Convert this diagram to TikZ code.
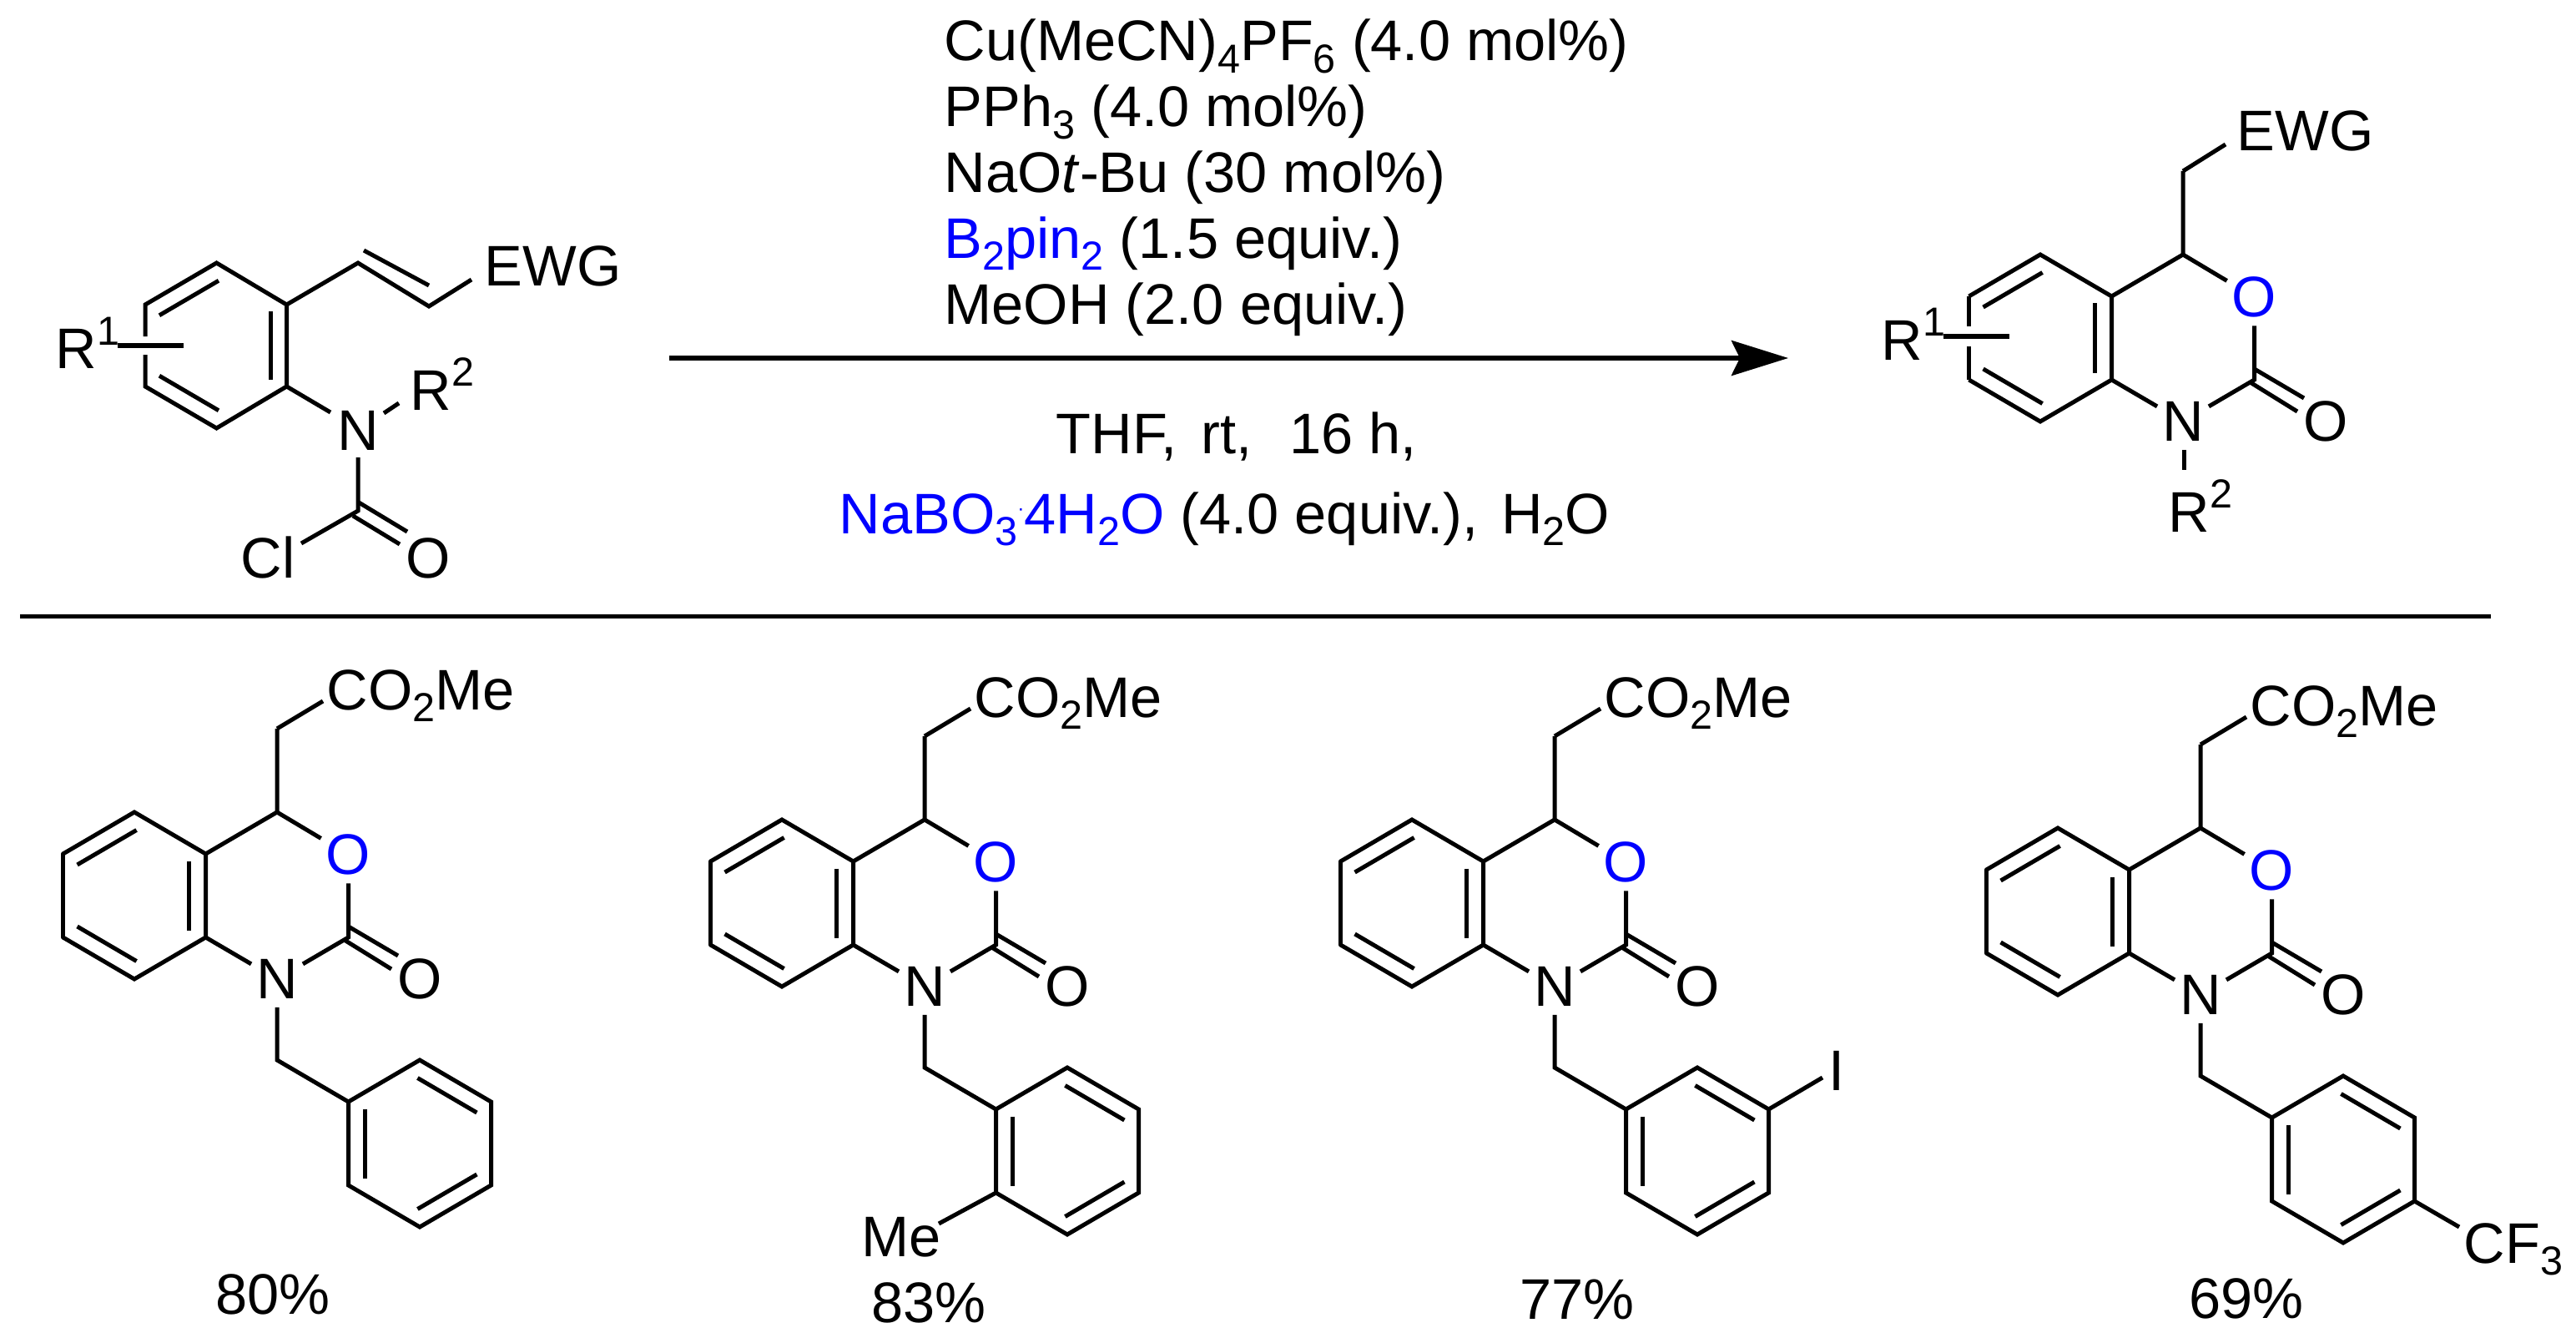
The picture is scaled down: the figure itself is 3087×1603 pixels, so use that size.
\documentclass[tikz,border=0pt]{standalone}
\usepackage{fontspec}
\setmainfont{Liberation Sans}
\usetikzlibrary{arrows.meta,calc}
\definecolor{oblue}{RGB}{0,0,255}
\newcommand{\subs}[1]{\raisebox{-.21em}{\fontsize{13.8}{13.8}\selectfont #1}}
\newcommand{\sups}[1]{\raisebox{.42em}{\fontsize{13.8}{13.8}\selectfont #1}}
\tikzset{
  every node/.style={font=\fontsize{19.5}{22}\selectfont},
  bond/.style={line width=.05cm,line join=miter,line cap=butt},
  inbond/.style={line width=.05cm,shorten <=-.03cm,shorten >=-.03cm},
  atom/.style={inner xsep=.055cm,inner ysep=.095cm},
  label/.style={inner sep=0pt,anchor=base west},
  yield/.style={inner sep=0pt,anchor=base},
}
% inner line of an aromatic double bond: ends a,b, ring centre c
\newcommand{\inner}[3]{\draw[inbond] ($(#1)!.23!(#3)$) -- ($(#2)!.23!(#3)$);}
% bicyclic carbamate core: name, x, y of C4
\newcommand{\core}[3]{%
  \begin{scope}[shift={(#2,#3)}]
    \coordinate (#1c4) at (0,0);
    \coordinate (#1ch) at (0,-100);
    \coordinate (#1tr) at (-85.5,50);
    \coordinate (#1br) at (-85.5,150);
    \coordinate (#1b) at (-171,200);
    \coordinate (#1bl) at (-256.5,150);
    \coordinate (#1tl) at (-256.5,50);
    \coordinate (#1t) at (-171,0);
    \coordinate (#1cen) at (-171,100);
    \coordinate (#1c2) at (85.5,150);
    \coordinate (#1da) at (80.5,153);
    \coordinate (#1db) at (137,188);
    \coordinate (#1dc) at (85.5,137);
    \coordinate (#1dd) at (145,172);
    \node[atom,text=oblue] (#1O) at (85.5,51) {O};
    \node[atom] (#1N) at (0,200) {N};
    \node[atom] (#1X) at (171,200) {O};
    \draw[bond] (#1ch) -- (#1c4) -- (#1O);
    \draw[bond] (#1O) -- (#1c2) -- (#1N);
    \draw[bond] (#1N) -- (#1br);
    \draw[bond] (#1bl) -- (#1b) -- (#1br) -- (#1tr) -- (#1t) -- (#1tl);
    \draw[bond] (#1tr) -- (#1c4);
    \draw[bond] (#1da) -- (#1db);
    \draw[bond] (#1dc) -- (#1dd);
    \inner{#1tl}{#1t}{#1cen}
    \inner{#1tr}{#1br}{#1cen}
    \inner{#1bl}{#1b}{#1cen}
  \end{scope}}
% closed left side of the fused benzene ring
\newcommand{\closed}[1]{\draw[bond,line cap=round] (#1tl) -- (#1bl);}
% CO2Me arm and N-benzyl ring
\newcommand{\arm}[3]{%
  \begin{scope}[shift={(#2,#3)}]
    \node[label] (#1E) at (59,-123) {CO\subs{2}Me};
    \coordinate (#1e) at (55,-133);
    \draw[bond] (#1ch) -- (#1e);
    \coordinate (#1p) at (0,297);
    \coordinate (#1i) at (85.5,347);
    \coordinate (#1pt) at (171,297);
    \coordinate (#1pr) at (256.5,347);
    \coordinate (#1ps) at (256.5,447);
    \coordinate (#1pb) at (171,497);
    \coordinate (#1pl) at (85.5,447);
    \coordinate (#1pc) at (171,397);
    \draw[bond] (#1N) -- (#1p) -- (#1i);
    \draw[bond] (#1i) -- (#1pt) -- (#1pr) -- (#1ps) -- (#1pb) -- (#1pl) -- cycle;
    \inner{#1i}{#1pl}{#1pc}
    \inner{#1pt}{#1pr}{#1pc}
    \inner{#1ps}{#1pb}{#1pc}
  \end{scope}}
\begin{document}
\begin{tikzpicture}[x=.01cm,y=-.01cm]
\useasboundingbox (0,0) rectangle (3087,1603);

% --- substrate ---
\coordinate (st) at (259.5,315);
\coordinate (str) at (343.5,365);
\coordinate (sbr) at (343.5,463);
\coordinate (sb) at (259.5,513);
\coordinate (sbl) at (174,463);
\coordinate (stl) at (174,365);
\coordinate (scen) at (259,414);
\coordinate (sgu) at (174,403);
\coordinate (sgd) at (174,425);
\coordinate (sr1a) at (141,414);
\coordinate (sr1b) at (220,414);
\coordinate (sv1) at (429,315);
\coordinate (sv2) at (514,367);
\coordinate (sv3) at (565,335);
\coordinate (sv4) at (436,300);
\coordinate (sv5) at (514,342);
\coordinate (sc) at (429,612);
\coordinate (scl) at (361,651);
\coordinate (sda) at (423,618);
\coordinate (sdb) at (479,652);
\coordinate (sdc) at (430,602);
\coordinate (sdd) at (488,637);
\coordinate (snr) at (460,495);
\coordinate (snq) at (478,483);
\coordinate (sn1) at (396,494);
\coordinate (sn2) at (429,548);
\node[label] (sR1) at (66,442) {R\sups{1}};
\node[label] (sEWG) at (580,343) {EWG};
\node[inner sep=0pt] (sN) at (429,516) {N};
\node[label] (sR2) at (491,491) {R\sups{2}};
\node[label] (sCl) at (288,692) {Cl};
\node[yield] (sO) at (513,692) {O};
\draw[bond] (sgu) -- (stl) -- (st) -- (str) -- (sbr) -- (sb) -- (sbl) -- (sgd);
\draw[bond] (sr1a) -- (sr1b);
\inner{stl}{st}{scen}
\inner{str}{sbr}{scen}
\inner{sbl}{sb}{scen}
\draw[bond] (str) -- (sv1) -- (sv2) -- (sv3);
\draw[bond] (sv4) -- (sv5);
\draw[bond] (sbr) -- (sn1);
\draw[bond] (snr) -- (snq);
\draw[bond] (sn2) -- (sc) -- (scl);
\draw[bond] (sda) -- (sdb);
\draw[bond] (sdc) -- (sdd);

% --- reagents and arrow ---
\node[label] (r1) at (1131,73) {Cu(MeCN)\subs{4}PF\subs{6} (4.0 mol\%)};
\node[label] (r2) at (1131,152) {PPh\subs{3} (4.0 mol\%)};
\node[label] (r3) at (1131,231) {NaO\textit{t}-Bu (30 mol\%)};
\node[label] (r4) at (1131,309) {\textcolor{oblue}{B\subs{2}pin\subs{2}} (1.5 equiv.)};
\node[label] (r5) at (1131,388) {MeOH (2.0 equiv.)};
\node[label] (r6) at (1265,543) {THF,\hspace{.42em}rt,\hspace{.66em}16 h,};
\node[label] (r7) at (1005,639) {\textcolor{oblue}{NaBO\subs{3}\raisebox{6pt}{\fontsize{7}{7}\selectfont ·}4H\subs{2}O} (4.0 equiv.),\hspace{.4em}H\subs{2}O};
\coordinate (a1) at (802,429);
\coordinate (a2) at (2143,429);
\draw[line width=.055cm,-{Stealth[length=.68cm,width=.42cm,inset=.1cm]}] (a1) -- (a2);

% --- product ---
\core{q}{2616}{305}
\coordinate (qgu) at (2359.5,391);
\coordinate (qgd) at (2359.5,415);
\coordinate (qra) at (2329,403);
\coordinate (qrb) at (2408,403);
\coordinate (qe) at (2667,173);
\coordinate (qna) at (2617,539);
\coordinate (qnb) at (2617,563);
\draw[bond] (qtl) -- (qgu);
\draw[bond] (qbl) -- (qgd);
\draw[bond] (qra) -- (qrb);
\draw[bond] (qch) -- (qe);
\draw[bond] (qna) -- (qnb);
\node[label] (qR1) at (2254,431) {R\sups{1}};
\node[label] (qR2) at (2598,637) {R\sups{2}};
\node[label] (qEWG) at (2680,181) {EWG};

% --- separator ---
\coordinate (l1) at (24,738);
\coordinate (l2) at (2985,738);
\draw[line width=.05cm] (l1) -- (l2);

% --- examples ---
\core{a}{332}{973}\closed{a}\arm{a}{332}{973}
\core{b}{1108}{982}\closed{b}\arm{b}{1108}{982}
\core{c}{1863}{982}\closed{c}\arm{c}{1863}{982}
\core{d}{2637}{992}\closed{d}\arm{d}{2637}{992}

\node[label] (bMe) at (1032,1505) {Me};
\coordinate (bm) at (1125,1466);
\draw[bond] (bpl) -- (bm);
\node[yield] (cI) at (2201,1306) {I};
\coordinate (ci) at (2184,1291);
\draw[bond] (cpr) -- (ci);
\node[label] (dCF) at (2952,1513) {CF\subs{3}};
\coordinate (df) at (2947,1470);
\draw[bond] (dps) -- (df);

\node[yield] (ya) at (327,1574) {80\%};
\node[yield] (yb) at (1113,1584) {83\%};
\node[yield] (yc) at (1890,1580) {77\%};
\node[yield] (yd) at (2692,1579) {69\%};
\end{tikzpicture}
\end{document}
